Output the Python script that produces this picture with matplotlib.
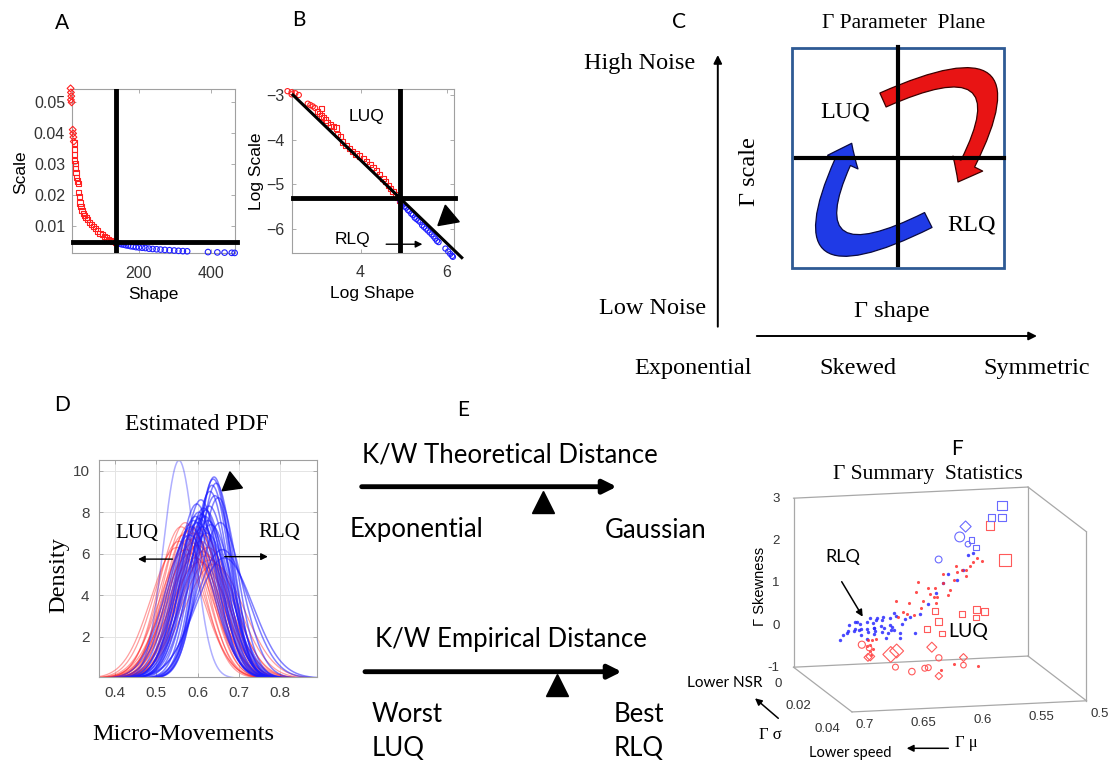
import numpy as np
import matplotlib.pyplot as plt
from matplotlib.patches import FancyArrowPatch, Rectangle
from mpl_toolkits.mplot3d import proj3d

plt.rcParams['font.family'] = ['Liberation Sans', 'DejaVu Sans']
SERIF = ['Liberation Serif', 'DejaVu Serif']
CAL = ['Lato', 'DejaVu Sans']

# ---- A / B : gamma shape and scale per subject ----
red_sq_shape = [20, 21, 22, 22, 23, 24, 25, 27, 29, 31, 32, 34, 36, 39, 42, 45,
                49, 53, 58, 63, 68, 73, 79, 85, 92, 98, 104, 110, 116, 122, 128, 134]
red_sq_scale = [0.0345, 0.0330, 0.0367, 0.0312, 0.0300, 0.0285, 0.0271, 0.0255,
                0.0245, 0.0238, 0.0207, 0.0195, 0.0174, 0.0162, 0.0150, 0.0141,
                0.0133, 0.0127, 0.0120, 0.0112, 0.0105, 0.0098, 0.0091, 0.0084,
                0.0077, 0.0072, 0.0066, 0.0061, 0.0057, 0.0054, 0.0050, 0.0047]
red_dm_shape = [10, 11, 12, 11, 13, 16, 17, 18, 19]
red_dm_scale = [0.0543, 0.0530, 0.0518, 0.0506, 0.0498, 0.0410, 0.0398, 0.0386, 0.0372]
blue_shape = [138, 142, 147, 152, 158, 164, 170, 177, 184, 192, 200, 209, 218, 228,
              238, 249, 260, 272, 285, 298, 310, 322, 334, 392, 418, 438, 458, 466]
blue_scale = [0.0046, 0.0044, 0.0043, 0.0041, 0.0040, 0.0038, 0.0037, 0.0035,
              0.0034, 0.0032, 0.0031, 0.0030, 0.0029, 0.0027, 0.0026, 0.0025,
              0.0024, 0.0023, 0.0022, 0.0021, 0.0020, 0.0019, 0.00185, 0.0016,
              0.0015, 0.00142, 0.00136, 0.00133]
shape_cut = 136
scale_cut = 0.005
fit_logshape = [2.43, 6.35]
fit_logscale = [-3.0, -6.64]

# ---- D : estimated PDFs (mean, peak density) ----
red_pdf_mu = [0.550, 0.555, 0.560, 0.565, 0.570, 0.572, 0.575, 0.578, 0.580, 0.583,
              0.585, 0.588, 0.590, 0.593, 0.595, 0.598, 0.600, 0.603, 0.605, 0.608,
              0.610, 0.612, 0.615, 0.620, 0.625, 0.630, 0.640]
red_pdf_peak = [6.3, 6.6, 7.3, 6.9, 7.5, 6.2, 7.1, 6.7, 7.4, 6.0, 7.2, 6.5, 7.0, 5.8,
                6.8, 7.3, 6.4, 7.0, 5.6, 6.6, 7.2, 6.1, 6.9, 5.9, 6.3, 5.7, 5.5]
blue_pdf_mu = [0.555, 0.580, 0.585, 0.590, 0.595, 0.598, 0.600, 0.603, 0.605, 0.608,
               0.610, 0.612, 0.615, 0.618, 0.620, 0.622, 0.625, 0.628, 0.630, 0.632,
               0.635, 0.638, 0.640, 0.642, 0.645, 0.650, 0.655, 0.660, 0.665]
blue_pdf_peak = [10.5, 6.9, 7.3, 7.6, 7.8, 8.4, 7.5, 8.0, 7.7, 8.6, 7.9, 7.3, 8.2, 7.8,
                 8.1, 7.0, 7.6, 8.3, 9.0, 7.4, 9.3, 9.6, 9.7, 8.8, 9.4, 8.7, 7.5, 6.2, 5.8]

# ---- F : gamma summary statistics (mu, sigma, skewness) ----
blue_dot_mu = [0.673, 0.667, 0.664, 0.661, 0.659, 0.656, 0.654, 0.651, 0.650, 0.649,
               0.646, 0.643, 0.642, 0.639, 0.637, 0.636, 0.635, 0.633, 0.632, 0.630,
               0.629, 0.627, 0.625, 0.623, 0.620, 0.616, 0.613, 0.610, 0.605, 0.598,
               0.590, 0.585, 0.582, 0.573, 0.568, 0.562, 0.559, 0.661, 0.647, 0.639,
               0.670, 0.654, 0.635, 0.622, 0.627, 0.642, 0.668, 0.658, 0.652, 0.645,
               0.640, 0.631, 0.644, 0.660]
blue_dot_sig = [0.010, 0.011, 0.009, 0.010, 0.012, 0.010, 0.009, 0.011, 0.010, 0.010,
                0.012, 0.009, 0.010, 0.011, 0.010, 0.009, 0.010, 0.012, 0.010, 0.011,
                0.009, 0.010, 0.010, 0.011, 0.010, 0.009, 0.010, 0.011, 0.010, 0.010,
                0.009, 0.010, 0.011, 0.010, 0.010, 0.009, 0.010, 0.011, 0.010, 0.012,
                0.010, 0.009, 0.011, 0.010, 0.010, 0.009, 0.011, 0.010, 0.012, 0.010,
                0.009, 0.011, 0.010, 0.010]
blue_dot_skew = [-0.13, 0.11, 0.19, 0.07, 0.15, 0.22, 0.07, 0.14, 0.26, 0.02,
                 0.18, 0.10, 0.30, 0.18, 0.02, 0.26, 0.10, 0.22, -0.02, 0.14,
                 0.30, 0.06, 0.38, -0.13, 0.19, 0.26, 0.34, -0.02, 0.41, 0.63,
                 0.86, 1.10, 1.33, 1.17, 1.39, 1.71, 1.79, 0.30, 0.37, 0.42,
                 -0.01, -0.05, -0.10, -0.02, 0.46, 0.02, 0.05, 0.28, -0.08, 0.24,
                 0.33, 0.08, -0.03, 0.12]
red_dot_mu = [0.625, 0.620, 0.613, 0.610, 0.606, 0.599, 0.593, 0.589, 0.585, 0.582,
              0.579, 0.576, 0.572, 0.569, 0.567, 0.562, 0.559, 0.555, 0.552, 0.605,
              0.596, 0.590, 0.616, 0.602, 0.593, 0.585, 0.573, 0.565, 0.623, 0.609,
              0.649, 0.647, 0.646, 0.644, 0.647, 0.650, 0.643, 0.646, 0.588, 0.568, 0.599]
red_dot_sig = [0.010, 0.011, 0.009, 0.010, 0.010, 0.011, 0.010, 0.009, 0.010, 0.011,
               0.010, 0.010, 0.009, 0.010, 0.011, 0.010, 0.010, 0.009, 0.010, 0.011,
               0.010, 0.009, 0.010, 0.010, 0.011, 0.010, 0.009, 0.010, 0.010, 0.011,
               0.010, 0.010, 0.011, 0.009, 0.010, 0.010, 0.011, 0.010, 0.020, 0.020, 0.020]
red_dot_skew = [0.74, 0.50, 0.65, 0.37, 1.16, 1.03, 0.79, 0.75, 1.10, 0.85,
                0.93, 1.17, 1.32, 1.40, 1.28, 1.48, 1.56, 1.64, 1.59, 0.56,
                0.87, 0.62, 0.41, 0.71, 1.03, 1.33, 1.47, 1.39, 0.34, 0.96,
                -0.15, -0.27, -0.35, -0.19, -0.43, -0.30, -0.11, -0.51, -0.55, -0.62, -0.68]
blue_sq_mu = [0.526, 0.535, 0.526, 0.552, 0.548]
blue_sq_sig = [0.003, 0.003, 0.003, 0.003, 0.003]
blue_sq_skew = [2.67, 2.40, 2.39, 1.89, 1.71]
blue_sq_size = [45, 28, 28, 16, 16]
blue_ci_mu = [0.562, 0.580, 0.555]
blue_ci_sig = [0.003, 0.003, 0.003]
blue_ci_skew = [1.98, 1.47, 1.80]
blue_ci_size = [50, 24, 16]
blue_dm_mu = [0.557]
blue_dm_sig = [0.003]
blue_dm_skew = [2.22]
blue_dm_size = [32]
red_sq_mu = [0.536, 0.523, 0.583, 0.590, 0.580, 0.560, 0.548, 0.541, 0.577, 0.548]
red_sq_sig = [0.003, 0.003, 0.003, 0.003, 0.003, 0.003, 0.003, 0.003, 0.003, 0.003]
red_sq_skew = [2.22, 1.38, 0.25, -0.16, 0.0, 0.15, 0.24, 0.18, -0.29, 0.05]
red_sq_size = [38, 75, 20, 20, 30, 20, 24, 24, 16, 16]
red_ci_mu = [0.6455, 0.624, 0.613, 0.610, 0.601, 0.580, 0.638, 0.648]
red_ci_sig = [0.003, 0.020, 0.020, 0.020, 0.020, 0.020, 0.020, 0.010]
red_ci_skew = [-0.46, -0.675, -0.61, -0.60, -0.38, -0.58, -0.55, -0.35]
red_ci_size = [26, 22, 18, 18, 20, 16, 18, 16]
red_dm_mu = [0.642, 0.637, 0.647, 0.607, 0.580, 0.601, 0.649]
red_dm_sig = [0.020, 0.020, 0.010, 0.020, 0.020, 0.020, 0.010]
red_dm_skew = [-0.245, -0.17, -0.55, -0.12, -0.40, -0.81, -0.57]
red_dm_size = [65, 50, 20, 26, 16, 14, 16]
skew_ticks = [3, 2, 1, 0, -1]
mu_ticks = [0.7, 0.65, 0.6, 0.55, 0.5]
sig_ticks = [0, 0.02, 0.04]

W, H = 1115, 762
fig = plt.figure(figsize=(W / 100, H / 100), dpi=100)


def px_axes(l, t, r, b, **kw):
    return fig.add_axes([l / W, 1 - b / H, (r - l) / W, (b - t) / H], **kw)


def matlab_look(ax, fs=11.5, col='#333333', pad=5):
    for s in ax.spines.values():
        s.set_color('#a0a0a0')
        s.set_linewidth(0.8)
    ax.tick_params(direction='in', top=True, right=True, length=3, width=0.6,
                   color='#a0a0a0', labelsize=fs, labelcolor=col, pad=pad)


RED, BLUE = '#ff2020', '#2020ff'

# ---------------- A ----------------
axA = px_axes(72, 89, 235, 253)
axA.scatter(red_sq_shape, red_sq_scale, marker='s', s=14, facecolors='none',
            edgecolors=RED, linewidths=0.8, clip_on=False, zorder=3)
axA.scatter(red_dm_shape, red_dm_scale, marker='D', s=12, facecolors='none',
            edgecolors=RED, linewidths=0.8, clip_on=False, zorder=3)
axA.scatter(blue_shape, blue_scale, marker='o', s=16, facecolors='none',
            edgecolors=BLUE, linewidths=0.8, clip_on=False, zorder=3)
axA.axvline(shape_cut, color='k', lw=3.5, zorder=4)
axA.plot([17, 472], [scale_cut, scale_cut], color='k', lw=3.5, clip_on=False, zorder=4)
axA.set_xlim(14, 467)
axA.set_ylim(0.0013, 0.0541)
axA.set_xticks([200, 400])
axA.set_yticks([0.01, 0.02, 0.03, 0.04, 0.05])
matlab_look(axA)
axA.tick_params(axis='x', pad=9)

# ---------------- B ----------------
axB = px_axes(291.7, 89, 454, 252.7)
axB.scatter(np.log(red_sq_shape), np.log(red_sq_scale), marker='s', s=14,
            facecolors='none', edgecolors=RED, linewidths=0.8, clip_on=False, zorder=3)
axB.scatter(np.log(red_dm_shape), np.log(red_dm_scale), marker='o', s=14,
            facecolors='none', edgecolors=RED, linewidths=0.8, clip_on=False, zorder=3)
axB.scatter(np.log(blue_shape), np.log(blue_scale), marker='o', s=14,
            facecolors='none', edgecolors=BLUE, linewidths=0.8, clip_on=False, zorder=3)
axB.plot(fit_logshape, fit_logscale, color='k', lw=2.2, clip_on=False, zorder=5)
axB.axvline(np.log(shape_cut), color='k', lw=3.5, zorder=4)
axB.plot([2.42, 6.2], [np.log(scale_cut)] * 2, color='k', lw=3.5, clip_on=False, zorder=4)
axB.plot([6.0], [-5.74], marker=(3, 0, 10), ms=18, color='k', clip_on=False, zorder=6)
axB.text(4.14, -3.49, 'LUQ', fontsize=12.5, ha='center', va='center')
axB.text(3.80, -6.23, 'RLQ', fontsize=12.5, ha='center', va='center')
axB.annotate('', xy=(5.50, -6.34), xytext=(4.53, -6.34),
             arrowprops=dict(arrowstyle='-|>', color='k', lw=1.0, mutation_scale=10))
axB.set_xlim(2.4, 6.17)
axB.set_ylim(-6.53, -2.865)
axB.set_xticks([4, 6])
axB.set_yticks([-6, -5, -4, -3])
matlab_look(axB)
axB.tick_params(axis='x', pad=9)

# ---------------- D ----------------
axD = px_axes(99.3, 460, 317.3, 676.7)
xs = np.linspace(0.36, 0.9, 400)
for m, p in zip(red_pdf_mu, red_pdf_peak):
    sd = 1 / (p * np.sqrt(2 * np.pi))
    axD.plot(xs, p * np.exp(-0.5 * ((xs - m) / sd) ** 2), color='#ff2a2a', lw=0.9, alpha=0.45)
for m, p in zip(blue_pdf_mu, blue_pdf_peak):
    sd = 1 / (p * np.sqrt(2 * np.pi))
    a = 0.35 if p > 10 else 0.55
    axD.plot(xs, p * np.exp(-0.5 * ((xs - m) / sd) ** 2), color='#1a1aff', lw=1.1, alpha=a)
axD.plot([0.681], [9.42], marker=(3, 0, 8), ms=17, color='k', clip_on=False, zorder=6)
axD.text(0.453, 6.98, 'LUQ', fontsize=15, family=SERIF, ha='center', va='center')
axD.text(0.798, 7.01, 'RLQ', fontsize=15, family=SERIF, ha='center', va='center')
axD.annotate('', xy=(0.449, 5.74), xytext=(0.546, 5.74),
             arrowprops=dict(arrowstyle='-|>', color='k', lw=1.0, mutation_scale=10))
axD.annotate('', xy=(0.777, 5.86), xytext=(0.659, 5.86),
             arrowprops=dict(arrowstyle='-|>', color='k', lw=1.0, mutation_scale=10))
axD.set_xlim(0.362, 0.89)
axD.set_ylim(0.07, 10.52)
axD.set_xticks([0.4, 0.5, 0.6, 0.7, 0.8])
axD.set_yticks([2, 4, 6, 8, 10])
axD.grid(color='#e4e4e4', lw=0.7)
axD.set_axisbelow(True)
matlab_look(axD, fs=11, col='#404040', pad=7)

# ---------------- F (3-D) ----------------
axF = px_axes(766.6, 435.2, 1104.3, 772.9, projection='3d')
axF.set_proj_type('ortho')
axF.view_init(elev=11, azim=76)
axF.set_box_aspect((4, 4, 2.85), zoom=1.1)
axF.set_xlim(0.5, 0.7)
axF.set_ylim(0.0, 0.04)
axF.set_zlim(-1, 3)
axF.set_xticks([])
axF.set_yticks([])
axF.set_zticks([])
axF.set_axis_off()
axF.patch.set_alpha(0)
mu_lo, mu_hi, sg_lo, sg_hi, sk_lo, sk_hi = 0.5, 0.7, 0.0, 0.04, -1, 3
edges = [((mu_hi, sg_lo, sk_lo), (mu_hi, sg_lo, sk_hi)),
         ((mu_hi, sg_lo, sk_hi), (mu_lo, sg_lo, sk_hi)),
         ((mu_lo, sg_lo, sk_hi), (mu_lo, sg_hi, sk_hi)),
         ((mu_lo, sg_hi, sk_hi), (mu_lo, sg_hi, sk_lo)),
         ((mu_lo, sg_lo, sk_hi), (mu_lo, sg_lo, sk_lo)),
         ((mu_hi, sg_lo, sk_lo), (mu_lo, sg_lo, sk_lo)),
         ((mu_lo, sg_lo, sk_lo), (mu_lo, sg_hi, sk_lo)),
         ((mu_hi, sg_lo, sk_lo), (mu_hi, sg_hi, sk_lo)),
         ((mu_hi, sg_hi, sk_lo), (mu_lo, sg_hi, sk_lo))]
for a, b in edges:
    axF.plot(*zip(a, b), color='#a8a8a8', lw=0.9)

# tick labels: project the 3-D anchor points to the axes' 2-D plane
M3 = axF.get_proj()


def tick3d(x, y, z, s, ha):
    xp, yp, _ = proj3d.proj_transform(x, y, z, M3)
    axF.text2D(xp, yp, s, transform=axF.transData, ha=ha, va='center',
               fontsize=9.5, color='#333333')


for z in skew_ticks:
    tick3d(0.712, 0, z, str(z), 'right')
for m in mu_ticks:
    tick3d(m, 0.049, -1.08, f'{m:g}', 'center')
for s in sig_ticks:
    tick3d(0.710, s, -1.38, f'{s:g}', 'right')

axF.scatter(red_dot_mu, red_dot_sig, red_dot_skew, s=5, c='#ff3030', marker='o',
            linewidths=0, depthshade=False, alpha=0.85)
axF.scatter(blue_dot_mu, blue_dot_sig, blue_dot_skew, s=6, c='#2a2aff', marker='o',
            linewidths=0, depthshade=False, alpha=0.85)
for mu_, sg_, sk_, sz, mk, col in [
        (blue_sq_mu, blue_sq_sig, blue_sq_skew, blue_sq_size, 's', '#6a6aff'),
        (blue_ci_mu, blue_ci_sig, blue_ci_skew, blue_ci_size, 'o', '#6a6aff'),
        (blue_dm_mu, blue_dm_sig, blue_dm_skew, blue_dm_size, 'D', '#6a6aff'),
        (red_sq_mu, red_sq_sig, red_sq_skew, red_sq_size, 's', '#ff5a5a'),
        (red_ci_mu, red_ci_sig, red_ci_skew, red_ci_size, 'o', '#ff5a5a'),
        (red_dm_mu, red_dm_sig, red_dm_skew, red_dm_size, 'D', '#ff5a5a')]:
    axF.scatter(mu_, sg_, sk_, s=sz, marker=mk, facecolors='none', edgecolors=col,
                linewidths=0.8, depthshade=False)

# ---------------- overlay: labels and diagrams ----------------
ov = fig.add_axes([0, 0, 1, 1], zorder=10)
ov.set_xlim(0, W)
ov.set_ylim(H, 0)
ov.axis('off')
ov.patch.set_alpha(0)

for lab, x, y in [('A', 62, 23), ('B', 299, 20), ('C', 679, 22), ('D', 62, 405),
                  ('E', 463, 410), ('F', 957, 449)]:
    ov.text(x, y, lab, fontsize=15, family=CAL, ha='center', va='center')

# A / B axis labels
ov.text(21, 171.7, 'Scale', fontsize=12.5, rotation=90, ha='center', va='center')
ov.text(153.3, 295, 'Shape', fontsize=12.5, ha='center', va='center')
ov.text(257, 171.7, 'Log Scale', fontsize=12.5, rotation=90, ha='center', va='center')
ov.text(371.7, 293.3, 'Log Shape', fontsize=12.5, ha='center', va='center')

# C diagram
ov.text(904, 23.3, 'Γ Parameter  Plane', fontsize=15.5, family=SERIF, ha='center', va='center')
ov.add_patch(Rectangle((792, 48.3), 212, 220, fill=False, ec='#2E5A94', lw=2))
ov.plot([897.5, 897.5], [46.7, 265], color='k', lw=3)
ov.plot([795.8, 1004], [158.3, 158.3], color='k', lw=3)
ov.add_patch(FancyArrowPatch((883, 100), (958, 182), connectionstyle='arc3,rad=-1.5',
                             arrowstyle='simple,head_length=0.75,head_width=1.2,tail_width=0.55',
                             mutation_scale=20, fc='#e81414', ec='#3a0000', lw=0.9,
                             shrinkA=0, shrinkB=0))
ov.add_patch(FancyArrowPatch((928.3, 220), (851.7, 143.3), connectionstyle='arc3,rad=-1.5',
                             arrowstyle='simple,head_length=0.75,head_width=1.2,tail_width=0.6',
                             mutation_scale=20, fc='#1f3ae6', ec='#0a0a40', lw=0.9,
                             shrinkA=0, shrinkB=0))
ov.text(845.5, 111.7, 'LUQ', fontsize=17.5, family=SERIF, ha='center', va='center')
ov.text(971.3, 225, 'RLQ', fontsize=17.5, family=SERIF, ha='center', va='center')
ov.text(749.7, 171.7, 'Γ scale', fontsize=17.5, family=SERIF, rotation=90, ha='center', va='center')
ov.text(639.8, 63.3, 'High Noise', fontsize=17.5, family=SERIF, ha='center', va='center')
ov.text(652.2, 308.3, 'Low Noise', fontsize=17.5, family=SERIF, ha='center', va='center')
ov.text(891.6, 311.7, 'Γ shape', fontsize=17.5, family=SERIF, ha='center', va='center')
ov.annotate('', xy=(717.8, 55), xytext=(717.8, 326.7),
            arrowprops=dict(arrowstyle='-|>', color='k', lw=1.4, mutation_scale=12, shrinkA=0, shrinkB=0))
ov.annotate('', xy=(1037, 336), xytext=(756.8, 336),
            arrowprops=dict(arrowstyle='-|>', color='k', lw=1.4, mutation_scale=12, shrinkA=0, shrinkB=0))
for lab, x in [('Exponential', 693), ('Skewed', 857.9), ('Symmetric', 1037)]:
    ov.text(x, 368.3, lab, fontsize=17.5, family=SERIF, ha='center', va='center')

# D labels
ov.text(196.7, 425, 'Estimated PDF', fontsize=17, family=SERIF, ha='center', va='center')
ov.text(58.3, 575, 'Density', fontsize=17.5, family=SERIF, rotation=90, ha='center', va='center')
ov.text(183.3, 735, 'Micro-Movements', fontsize=17.5, family=SERIF, ha='center', va='center')

# E diagram
ov.text(361.7, 455, 'K/W Theoretical Distance', fontsize=18.5, family=CAL, ha='left', va='center')
ov.annotate('', xy=(616.7, 486.7), xytext=(361.7, 486.7),
            arrowprops=dict(arrowstyle='-|>', color='k', lw=3.5, mutation_scale=20, shrinkA=0, shrinkB=0))
ov.plot([543.3], [501.7], marker='^', ms=16, color='k')
ov.text(350, 530, 'Exponential', fontsize=18.5, family=CAL, ha='left', va='center')
ov.text(605, 530, 'Gaussian', fontsize=18.5, family=CAL, ha='left', va='center')
ov.text(375, 640, 'K/W Empirical Distance', fontsize=18.5, family=CAL, ha='left', va='center')
ov.annotate('', xy=(621.7, 671.7), xytext=(365, 671.7),
            arrowprops=dict(arrowstyle='-|>', color='k', lw=3.5, mutation_scale=20, shrinkA=0, shrinkB=0))
ov.plot([556.7], [685], marker='^', ms=16, color='k')
ov.text(371.7, 715, 'Worst', fontsize=18.5, family=CAL, ha='left', va='center')
ov.text(371.7, 748.3, 'LUQ', fontsize=18.5, family=CAL, ha='left', va='center')
ov.text(613.3, 715, 'Best', fontsize=18.5, family=CAL, ha='left', va='center')
ov.text(613.3, 748.3, 'RLQ', fontsize=18.5, family=CAL, ha='left', va='center')

# F labels
ov.text(928.3, 475, 'Γ Summary  Statistics', fontsize=15.5, family=SERIF, ha='center', va='center')
ov.text(760, 586.7, 'Γ Skewness', fontsize=10.5, rotation=90, ha='center', va='center')
ov.text(843.3, 556.7, 'RLQ', fontsize=13, family=CAL, ha='center', va='center')
ov.text(968.3, 631.7, 'LUQ', fontsize=14, family=CAL, ha='center', va='center')
ov.annotate('', xy=(862.7, 616.7), xytext=(841.7, 581.7),
            arrowprops=dict(arrowstyle='-|>', color='k', lw=1.1, mutation_scale=10, shrinkA=0, shrinkB=0))
ov.text(725, 683.3, 'Lower NSR', fontsize=11, family=CAL, ha='center', va='center')
ov.annotate('', xy=(755, 698.3), xytext=(778.3, 718.3),
            arrowprops=dict(arrowstyle='-|>', color='k', lw=1.1, mutation_scale=10, shrinkA=0, shrinkB=0))
ov.text(770, 735, 'Γ σ', fontsize=12, family=SERIF, ha='center', va='center')
ov.text(966.7, 743.3, 'Γ μ', fontsize=12, family=SERIF, ha='center', va='center')
ov.annotate('', xy=(906.7, 748.3), xytext=(948.3, 748.3),
            arrowprops=dict(arrowstyle='-|>', color='k', lw=1.1, mutation_scale=10, shrinkA=0, shrinkB=0))
ov.text(850, 753, 'Lower speed', fontsize=10.5, family=CAL, ha='center', va='center')

fig.savefig('out.png', dpi=100)
